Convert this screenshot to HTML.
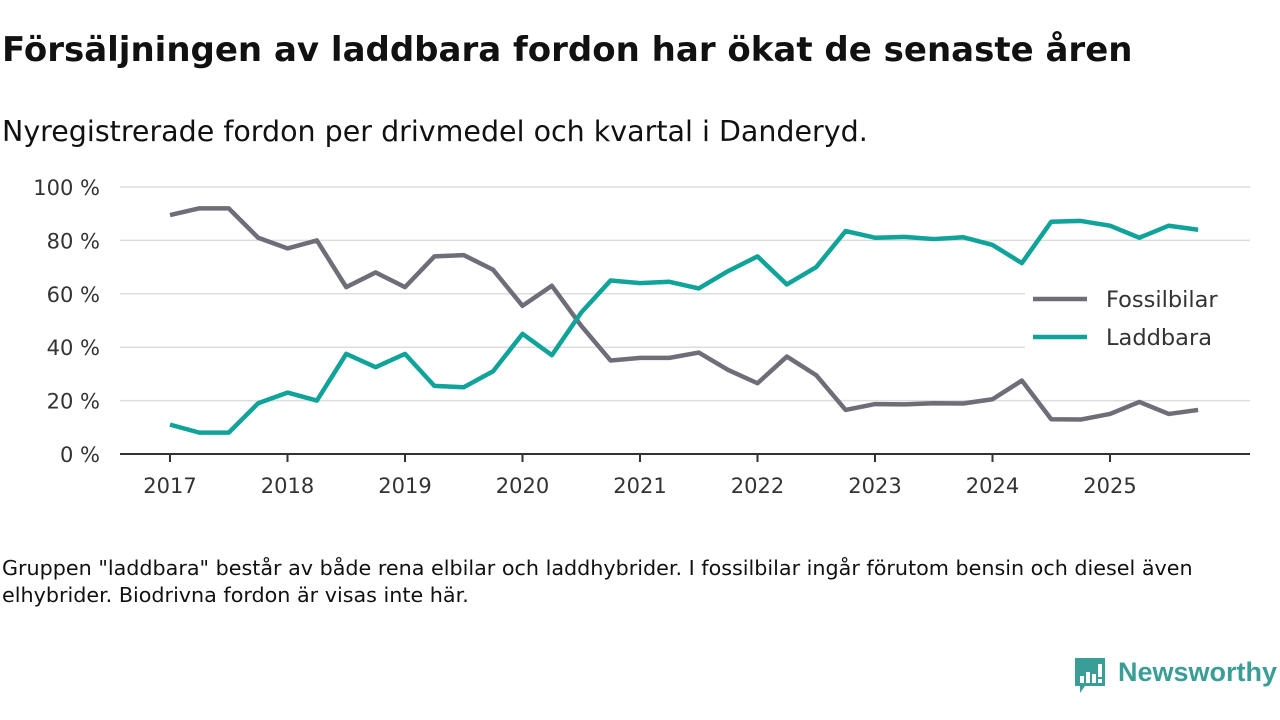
<!DOCTYPE html>
<html><head><meta charset="utf-8"><style>
body{margin:0;width:1280px;height:720px;background:#fff;font-family:"DejaVu Sans","Liberation Sans",sans-serif;overflow:hidden;position:relative}
h1{position:absolute;left:2px;top:30px;margin:0;font-size:34px;font-weight:bold;color:#111}
.sub{position:absolute;left:2px;top:115px;font-size:28.5px;color:#111}
.note{position:absolute;left:2px;top:555px;font-size:20.7px;line-height:27px;color:#111;width:1240px}
</style></head><body>
<h1>Försäljningen av laddbara fordon har ökat de senaste åren</h1>
<div class="sub">Nyregistrerade fordon per drivmedel och kvartal i Danderyd.</div>
<svg id="chart" width="1280" height="720" style="position:absolute;left:0;top:0"></svg>
<div class="note">Gruppen "laddbara" består av både rena elbilar och laddhybrider. I fossilbilar ingår förutom bensin och diesel även elhybrider. Biodrivna fordon är visas inte här.</div>
<div style="position:absolute;left:1073px;top:656px;width:207px;height:40px">
<svg width="36" height="40" style="position:absolute;left:0;top:0"><path d="M2 2h30v28h-20l-5 7v-7h-5z" fill="#3a9e96"/><rect x="7" y="20" width="4" height="7" fill="#fff"/><rect x="13" y="16" width="4" height="11" fill="#fff"/><rect x="19" y="18" width="4" height="9" fill="#fff"/><rect x="25" y="8" width="4" height="13" fill="#fff"/><rect x="25" y="23" width="4" height="4" fill="#fff"/></svg>
<span style="position:absolute;left:45px;top:1px;font-family:'Liberation Sans',sans-serif;font-size:27px;color:#3a9e96;font-weight:bold">Newsworthy</span></div>
<script>
const years=["2017","2018","2019","2020","2021","2022","2023","2024","2025"];
const yTicks=[0,20,40,60,80,100];
const fossil=[89.5,92,92,81,77,80,62.5,68,62.5,74,74.5,69,55.5,63,48,35,36,36,38,31.5,26.5,36.5,29.5,16.5,18.7,18.6,19,18.9,20.5,27.5,13,12.9,15,19.5,15,16.5];
const laddbara=[11,8,8,19,23,20,37.5,32.5,37.5,25.5,25,31,45,37,53,65,64,64.5,62,68.5,74,63.5,70,83.5,81,81.3,80.5,81.2,78.3,71.5,87,87.3,85.5,81,85.5,84];
const svg=document.getElementById('chart');const NS="http://www.w3.org/2000/svg";
const x=i=>170+i*117.5/4, y=v=>454-v*2.67;
function el(t,a,p){const e=document.createElementNS(NS,t);for(const k in a)e.setAttribute(k,a[k]);(p||svg).appendChild(e);return e;}
yTicks.forEach(v=>{
 if(v>0){const g=el('line',{x1:120,x2:1250,y1:y(v),y2:y(v),stroke:'#ddd','stroke-width':1.5});
 
 }
 const t=el('text',{x:100,y:y(v)+8,'text-anchor':'end','font-size':21,fill:'#333'});t.textContent=v+' %';
 
 
});
const ax=el('line',{x1:120,x2:1250,y1:454,y2:454,stroke:'#333','stroke-width':2});


years.forEach((yr,i)=>{const xx=x(i*4);
 el('line',{x1:xx,x2:xx,y1:454,y2:462,stroke:'#333','stroke-width':2});
 const t=el('text',{x:xx,y:493,'text-anchor':'middle','font-size':21,fill:'#333'});t.textContent=yr;
 
 
});
function line(d,c,n){const p=el('polyline',{points:d.map((v,i)=>x(i)+','+y(v)).join(' '),fill:'none',stroke:c,'stroke-width':4.5,'stroke-linejoin':'round'});
 
 }
line(fossil,'#6e6e78','fossilbilar-line');
line(laddbara,'#10a39a','laddbara-line');
el('rect',{x:1025,y:280,width:225,height:70,fill:'#fff'});
[['Fossilbilar','#6e6e78',299],['Laddbara','#10a39a',337]].forEach(([n,c,yy])=>{
 const l=el('line',{x1:1033,x2:1087,y1:yy,y2:yy,stroke:c,'stroke-width':4.5});
 
 
 const t=el('text',{x:1106,y:yy+8,'font-size':22.5,fill:'#333'});t.textContent=n;
 
 
});
</script>
</body></html>
